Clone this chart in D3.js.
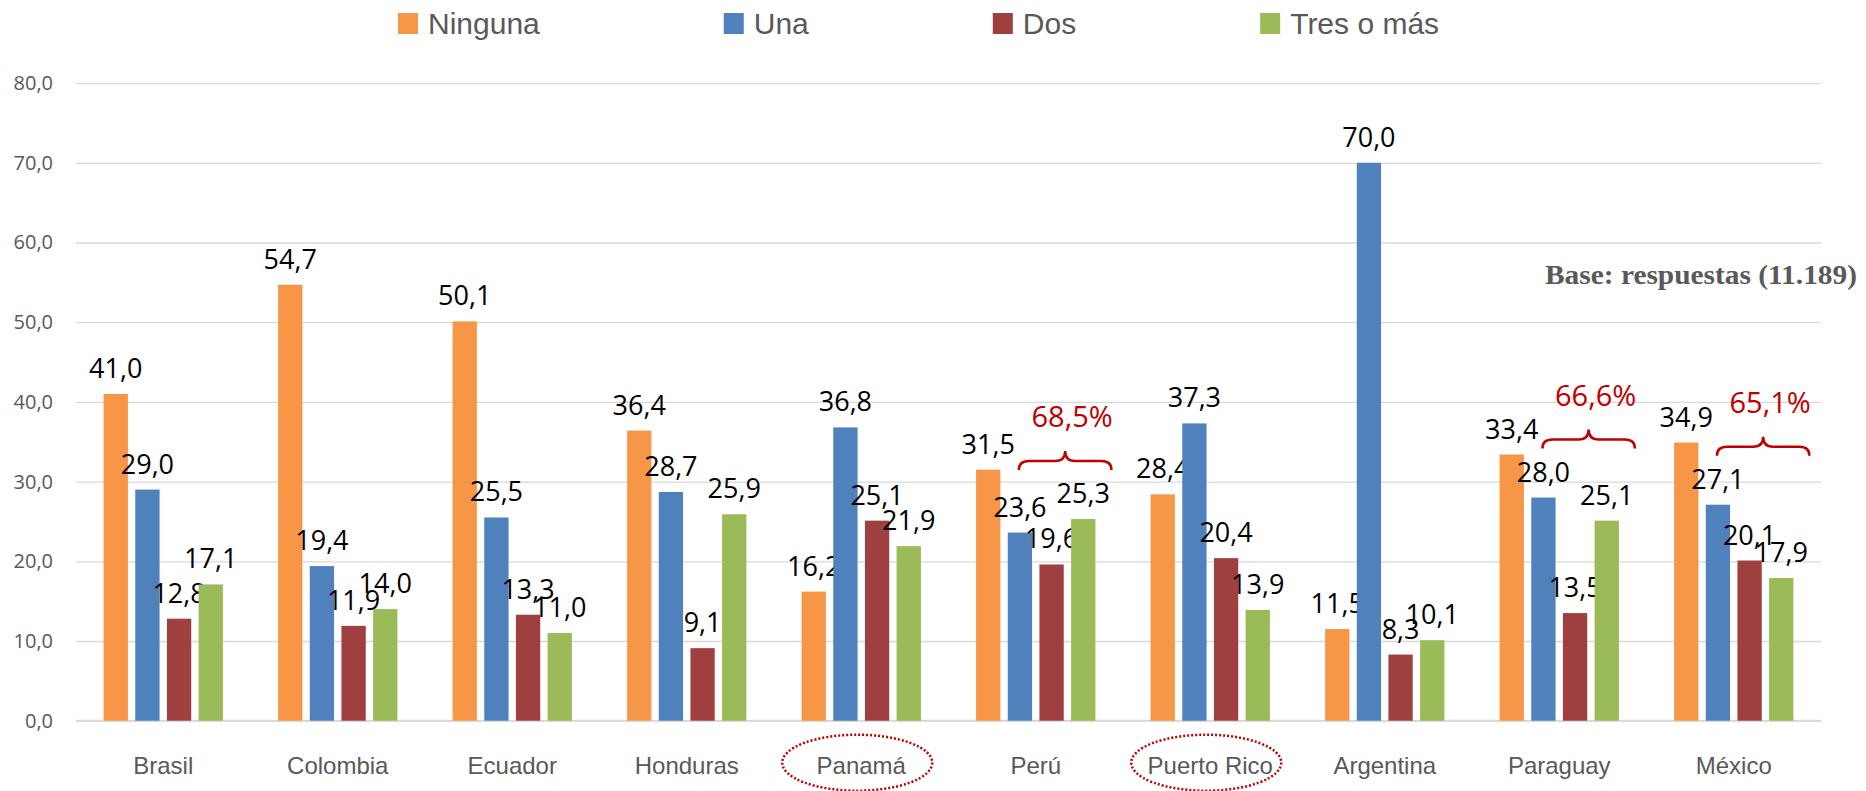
<!DOCTYPE html>
<html>
<head>
<meta charset="utf-8">
<script src="https://cdn.jsdelivr.net/npm/d3@7"></script>
<style>
body { margin: 0; background: #fff; }
</style>
</head>
<body>
<div id="graphique"></div>
<script>
//----------------------------------------------------------------
//  Données
//----------------------------------------------------------------
var pays = ["Brasil","Colombia","Ecuador","Honduras","Panamá","Perú","Puerto Rico","Argentina","Paraguay","México"];
var series = ["Ninguna","Una","Dos","Tres o más"];
var ninguna  = [41.0, 54.7, 50.1, 36.4, 16.2, 31.5, 28.4, 11.5, 33.4, 34.9];
var una      = [29.0, 19.4, 25.5, 28.7, 36.8, 23.6, 37.3, 70.0, 28.0, 27.1];
var dos      = [12.8, 11.9, 13.3,  9.1, 25.1, 19.6, 20.4,  8.3, 13.5, 20.1];
var tresOMas = [17.1, 14.0, 11.0, 25.9, 21.9, 25.3, 13.9, 10.1, 25.1, 17.9];
var graduations = [0, 10, 20, 30, 40, 50, 60, 70, 80];
var paysEntoures = ["Panamá", "Puerto Rico"];
var paysAccolades = ["Perú", "Paraguay", "México"];
var noteBase = "Base: respuestas (11.189)";

//----------------------------------------------------------------
//  Création du svg
//----------------------------------------------------------------
var largeurSvg = 1866, hauteurSvg = 791;
var marges = {haut: 83.1, droite: 45, bas: 70.3, gauche: 76};

var couleurs = {"Ninguna":"#F79646", "Una":"#4F81BD", "Dos":"#9F3F3F", "Tres o más":"#9BBB59"};
var gris = "#595959", rouge = "#C00000";

// format avec virgule décimale
var locale = d3.formatLocale({decimal: ",", thousands: ".", grouping: [3], currency: ["", "€"]});
var fmt = locale.format(".1f");

var svg = d3.select("#graphique")
    .append("svg")
    .attr("width", largeurSvg)
    .attr("height", hauteurSvg);

var valeurs = [ninguna, una, dos, tresOMas];

// pour les axes
var x0 = d3.scaleBand()
    .domain(pays)
    .range([marges.gauche, largeurSvg - marges.droite]);

var x1 = d3.scaleBand()
    .domain(series)
    .range([27.6, x0.bandwidth() - 27.6])
    .paddingInner(0.233);

var y = d3.scaleLinear()
    .domain([0, 80])
    .range([hauteurSvg - marges.bas, marges.haut]);

//----------------------------------------------------------------
//  Grille + axe des ordonnées
//----------------------------------------------------------------
var axeY = svg.append("g")
    .attr("transform", "translate(" + marges.gauche + ",0)")
    .call(d3.axisLeft(y)
        .tickValues(graduations)
        .tickSize(-(largeurSvg - marges.gauche - marges.droite))
        .tickPadding(23)
        .tickFormat(fmt));
axeY.select(".domain").remove();
axeY.selectAll("line").attr("stroke", "#d9d9d9").attr("stroke-width", 1.3);
axeY.selectAll("text")
    .attr("fill", gris)
    .style("font-family", "'Open Sans', sans-serif")
    .style("font-size", "20px");

// ligne de base
svg.append("line")
    .attr("x1", marges.gauche).attr("x2", largeurSvg - marges.droite)
    .attr("y1", y(0)).attr("y2", y(0))
    .attr("stroke", "#d9d9d9").attr("stroke-width", 2);

//----------------------------------------------------------------
//  Barres + étiquettes
//----------------------------------------------------------------
series.forEach(function(s, j) {
    var g = svg.append("g").attr("fill", couleurs[s]);
    g.selectAll("rect")
        .data(valeurs[j])
        .enter().append("rect")
            .attr("x", function(d, i) { return x0(pays[i]) + x1(s); })
            .attr("y", function(d) { return y(d); })
            .attr("width", x1.bandwidth())
            .attr("height", function(d) { return y(0) - y(d); });

    svg.append("g").selectAll("text")
        .data(valeurs[j])
        .enter().append("text")
            .attr("x", function(d, i) { return x0(pays[i]) + x1(s) + x1.bandwidth() / 2; })
            .attr("y", function(d) { return y(d) - 16; })
            .attr("text-anchor", "middle")
            .attr("fill", "#000")
            .style("font-family", "'Open Sans', sans-serif")
            .style("font-size", "27px")
            .text(function(d) { return fmt(d); });
});

//----------------------------------------------------------------
//  Axe des abscisses (noms des pays)
//----------------------------------------------------------------
svg.append("g").selectAll("text")
    .data(pays)
    .enter().append("text")
        .attr("x", function(d) { return x0(d) + x0.bandwidth() / 2; })
        .attr("y", y(0) + 53)
        .attr("text-anchor", "middle")
        .attr("fill", gris)
        .style("font-family", "'Liberation Sans', Arial, sans-serif")
        .style("font-size", "24px")
        .text(function(d) { return d; });

// ellipses pointillées
svg.append("g").selectAll("ellipse")
    .data(paysEntoures)
    .enter().append("ellipse")
        .attr("cx", function(d) { return x0(d) + x0.bandwidth() / 2 - 4; })
        .attr("cy", y(0) + 42)
        .attr("rx", 75)
        .attr("ry", 28)
        .attr("fill", "none")
        .attr("stroke", rouge)
        .attr("stroke-width", 2.5)
        .attr("stroke-dasharray", "2,2");

//----------------------------------------------------------------
//  Accolades : somme Una + Dos + Tres o más
//----------------------------------------------------------------
function accolade(xa, xb, yl) {
    var m = (xa + xb) / 2, r = 10, h = 9;
    return "M" + xa + "," + (yl + h) +
        " Q" + xa + "," + yl + " " + (xa + r) + "," + yl +
        " L" + (m - r) + "," + yl +
        " Q" + m + "," + yl + " " + m + "," + (yl - h - 1) +
        " Q" + m + "," + yl + " " + (m + r) + "," + yl +
        " L" + (xb - r) + "," + yl +
        " Q" + xb + "," + yl + " " + xb + "," + (yl + h);
}

paysAccolades.forEach(function(p) {
    var i = pays.indexOf(p);
    var total = una[i] + dos[i] + tresOMas[i];
    var maxi = d3.max([una[i], dos[i], tresOMas[i]]);
    var xa = x0(p) + x1("Una") + x1.bandwidth() / 2 - 1;
    var xb = x0(p) + x1("Tres o más") + x1.bandwidth() + 16;
    var yl = y(maxi) - 58;
    svg.append("path")
        .attr("d", accolade(xa, xb, yl))
        .attr("fill", "none")
        .attr("stroke", rouge)
        .attr("stroke-width", 2.5);
    svg.append("text")
        .attr("x", (xa + xb) / 2 + 7)
        .attr("y", yl - 34)
        .attr("text-anchor", "middle")
        .attr("fill", rouge)
        .style("font-family", "'Open Sans', sans-serif")
        .style("font-size", "29px")
        .text(fmt(total) + "%");
});

//----------------------------------------------------------------
//  Légende
//----------------------------------------------------------------
var legende = svg.append("g");
var xLeg = 398;
series.forEach(function(s) {
    legende.append("rect")
        .attr("x", xLeg).attr("y", 13)
        .attr("width", 20).attr("height", 21)
        .attr("fill", couleurs[s]);
    var t = legende.append("text")
        .attr("x", xLeg + 30).attr("y", 34)
        .attr("fill", gris)
        .style("font-family", "'Liberation Sans', Arial, sans-serif")
        .style("font-size", "30px")
        .text(s);
    xLeg = xLeg + 30 + t.node().getComputedTextLength() + 184;
});

// note "Base" (police serif grasse, resserrée à la largeur d'origine)
svg.append("text")
    .attr("x", 1545).attr("y", 284)
    .attr("textLength", 312)
    .attr("lengthAdjust", "spacingAndGlyphs")
    .attr("fill", gris)
    .style("font-family", "'Liberation Serif', serif")
    .style("font-weight", "bold")
    .style("font-size", "27.5px")
    .text(noteBase);
</script>
</body>
</html>
